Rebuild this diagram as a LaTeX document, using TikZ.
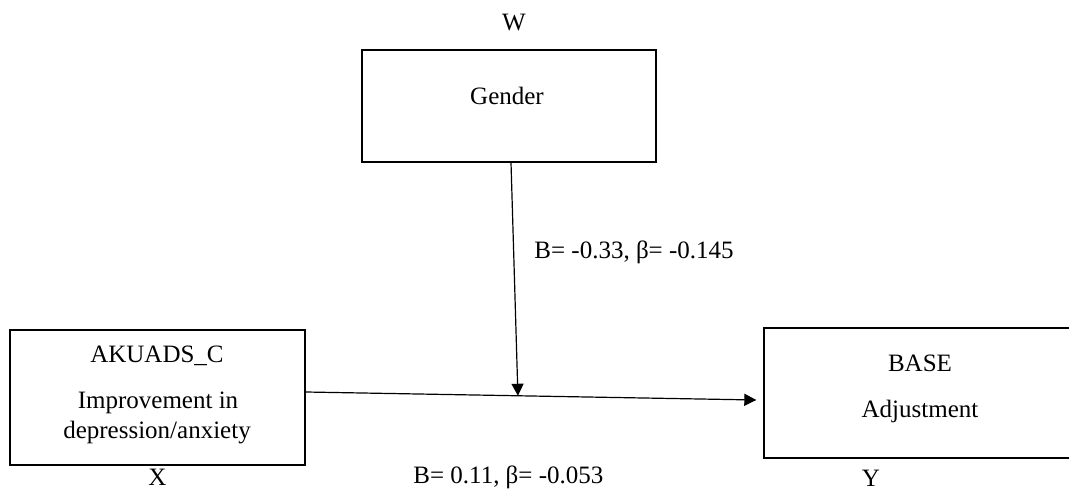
\documentclass[tikz,border=0pt]{standalone}
\usepackage{fontspec}
\setmainfont{Liberation Serif}
\usetikzlibrary{arrows.meta, calc}

\begin{document}
\begin{tikzpicture}[x=0.5pt, y=-0.5pt,
    box/.style={draw, line width=0.7pt, inner sep=0pt},
    txt/.style={anchor=base, inner sep=0pt, font=\fontsize{12.5}{15}\selectfont},
    link/.style={line width=0.6pt, -{Triangle[length=6pt, width=6pt]}}]
    \useasboundingbox (0,0) rectangle (1069,491);
    % boxes
    \node[box, minimum width=147pt, minimum height=56pt] (gender) at (509,106) {};
    \node[box, minimum width=147.5pt, minimum height=67.5pt] (akuads) at (157.5,397.5) {};
    \node[box, minimum width=156pt, minimum height=65pt] (base) at (920,393) {};
    % texts
    \node[txt] (w) at (514,31) {W};
    \node[txt] (gendertxt) at (507,105) {Gender};
    \node[txt] (akuadstxt) at (157,362) {AKUADS\_C};
    \node[txt] (improve) at (158,408) {Improvement in};
    \node[txt] (depress) at (157,438) {depression/anxiety};
    \node[txt] (x) at (157.5,485) {X};
    \node[txt] (basetxt) at (920,371.5) {BASE};
    \node[txt] (adjust) at (920,417) {Adjustment};
    \node[txt] (y) at (871,486) {Y};
    \node[txt, anchor=base west] (wcoef) at (534,259) {B= -0.33, β= -0.145};
    \node[txt, anchor=base west] (xcoef) at (413,483) {B= 0.11, β= -0.053};
    % paths
    \coordinate (xo) at ([shift={(0,-5.5)}]akuads.east);
    \coordinate (yi) at ([shift={(-7,7)}]base.west);
    \coordinate (join) at ($(xo)!0.471!(yi)$);
    \draw[link] (xo) -- (yi);
    \draw[link] ([xshift=1pt]gender.south) -- (join);
\end{tikzpicture}
\end{document}
